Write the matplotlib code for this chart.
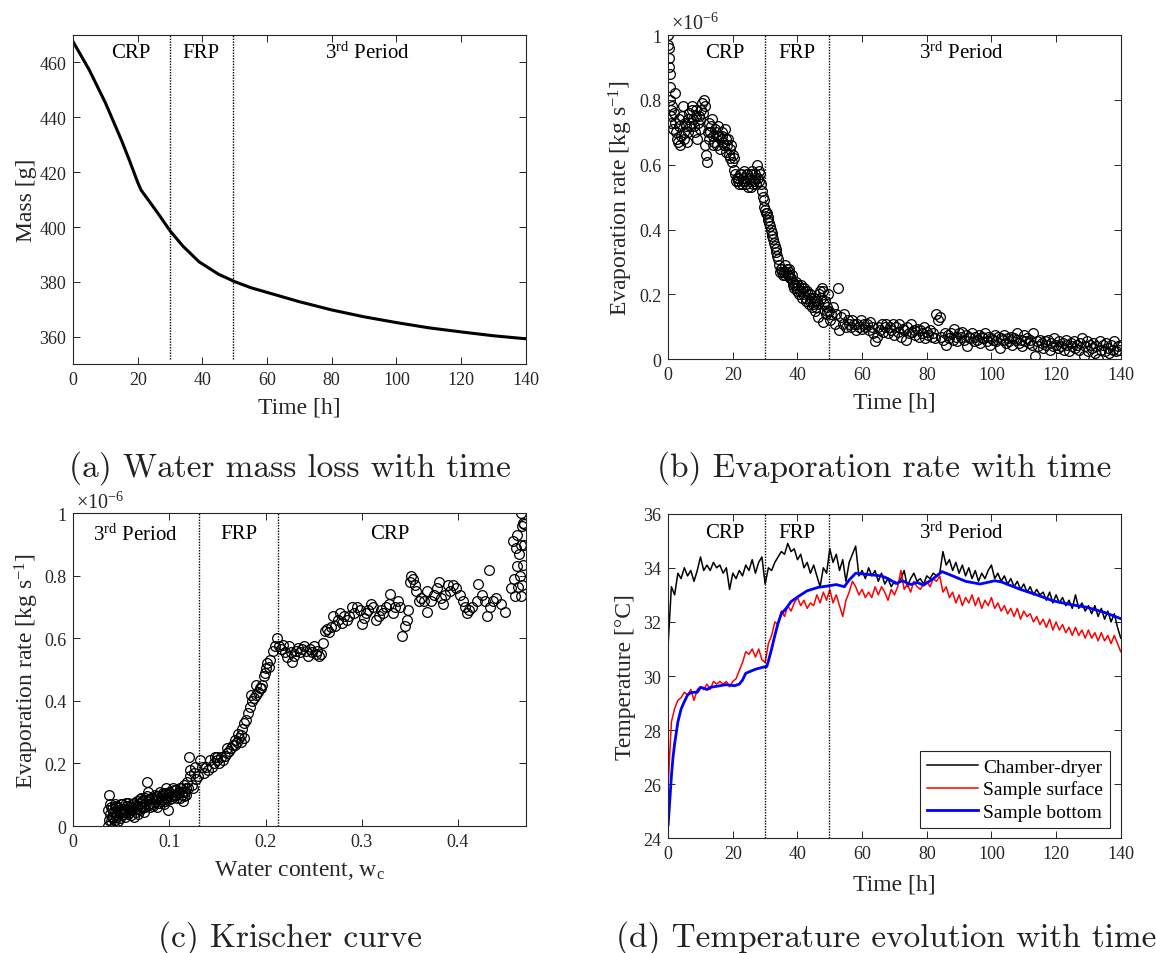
import numpy as np
import matplotlib
matplotlib.use("Agg")
from matplotlib import pyplot as plt
from matplotlib.ticker import FuncFormatter

plt.rcParams["font.family"] = "serif"
plt.rcParams["font.serif"] = ["Liberation Serif", "DejaVu Serif"]
plt.rcParams["mathtext.fontset"] = "custom"
plt.rcParams["mathtext.rm"] = "Liberation Serif"
plt.rcParams["mathtext.it"] = "Liberation Serif:italic"
plt.rcParams["font.size"] = 13
plt.rcParams["axes.linewidth"] = 0.8
plt.rcParams["xtick.direction"] = "in"
plt.rcParams["ytick.direction"] = "in"
plt.rcParams["xtick.top"] = True
plt.rcParams["ytick.right"] = True

# ---- (a) mass vs time
time_mass = [0, 5, 10, 15, 17.5, 20, 21, 26, 30, 34, 39, 45, 50, 55, 60, 70, 80, 90, 100, 110, 120, 130, 140]
mass = [467.5, 457.2, 445.2, 431.5, 424.0, 416.2, 413.5, 405.4, 398.6, 393.0, 387.3, 382.8, 380.1,
        377.9, 376.2, 372.8, 369.8, 367.3, 365.2, 363.3, 361.8, 360.4, 359.3]

# period boundaries
time_bounds = [30, 49.6]
wc_bounds = [0.1307, 0.213]

# ---- (b) evaporation rate vs time (x1e-6 kg/s)
time_rate_early = [0, 0.1, 0.2, 0.3, 0.4, 0.5, 0.6, 0.7, 0.8, 0.9, 1.0, 1.2]
rate_early = [1.0, 0.97, 0.96, 0.93, 0.90, 0.88, 0.84, 0.80, 0.77, 0.75, 0.73, 0.78]
time_rate = np.arange(3, 281) / 2.0  # sampled every 0.5 h from 1.5 h
rate = [
    0.71, 0.82, 0.70, 0.67, 0.74, 0.69, 0.78, 0.68, 0.72, 0.70,
    0.76, 0.73, 0.78, 0.72, 0.77, 0.68, 0.75, 0.74, 0.79, 0.80,
    0.66, 0.61, 0.73, 0.70, 0.74, 0.66, 0.71, 0.69, 0.72, 0.65,
    0.70, 0.67, 0.71, 0.64, 0.68, 0.62, 0.66, 0.63, 0.585, 0.55,
    0.56, 0.54, 0.57, 0.55, 0.58, 0.54, 0.57, 0.56, 0.53, 0.58,
    0.55, 0.56, 0.60, 0.55, 0.57, 0.52, 0.49, 0.46, 0.45, 0.43,
    0.41, 0.39, 0.37, 0.35, 0.33, 0.31, 0.27, 0.28, 0.26, 0.29,
    0.27, 0.26, 0.28, 0.25, 0.23, 0.22, 0.24, 0.21, 0.20, 0.23,
    0.19, 0.22, 0.18, 0.21, 0.17, 0.20, 0.16, 0.19, 0.15, 0.18,
    0.13, 0.21, 0.22, 0.115, 0.18, 0.15, 0.20, 0.12, 0.14, 0.16,
    0.11, 0.14, 0.22, 0.09, 0.13, 0.11, 0.14, 0.10, 0.12, 0.11,
    0.10, 0.12, 0.11, 0.09, 0.11, 0.10, 0.12, 0.095, 0.11, 0.10,
    0.11, 0.09, 0.115, 0.10, 0.08, 0.055, 0.07, 0.10, 0.09, 0.11,
    0.085, 0.10, 0.11, 0.08, 0.10, 0.09, 0.11, 0.075, 0.10, 0.085,
    0.11, 0.07, 0.095, 0.09, 0.06, 0.10, 0.08, 0.11, 0.085, 0.09,
    0.075, 0.095, 0.07, 0.09, 0.08, 0.10, 0.065, 0.085, 0.075, 0.09,
    0.07, 0.08, 0.065, 0.14, 0.12, 0.13, 0.07, 0.06, 0.08, 0.045,
    0.075, 0.065, 0.08, 0.06, 0.095, 0.07, 0.055, 0.08, 0.07, 0.085,
    0.06, 0.075, 0.04, 0.07, 0.065, 0.08, 0.055, 0.07, 0.06, 0.075,
    0.05, 0.07, 0.065, 0.08, 0.055, 0.07, 0.045, 0.065, 0.06, 0.075,
    0.055, 0.07, 0.035, 0.065, 0.06, 0.075, 0.05, 0.065, 0.055, 0.07,
    0.045, 0.065, 0.06, 0.08, 0.05, 0.06, 0.04, 0.075, 0.055, 0.065,
    0.05, 0.06, 0.045, 0.08, 0.01, 0.055, 0.04, 0.06, 0.05, 0.035,
    0.055, 0.045, 0.06, 0.03, 0.05, 0.04, 0.065, 0.045, 0.035, 0.055,
    0.04, 0.05, 0.03, 0.06, 0.045, 0.025, 0.05, 0.04, 0.055, 0.035,
    0.045, 0.03, 0.05, 0.065, 0.01, 0.04, 0.055, 0.025, 0.045, 0.035,
    0.05, 0.02, 0.04, 0.0, 0.055, 0.03, 0.045, 0.025, 0.05, 0.035,
    0.02, 0.045, 0.03, 0.055, 0.025, 0.04, 0.03, 0.045,
]
# extra readings in between, first 50 h (1.75 h, 2.25 h, ...)
time_rate_mid = np.arange(7, 200, 2) / 4.0
rate_mid = [
    0.76, 0.73, 0.68, 0.72, 0.66, 0.75, 0.70, 0.73, 0.67, 0.74,
    0.72, 0.77, 0.74, 0.70, 0.75, 0.73, 0.71, 0.77, 0.76, 0.78,
    0.63, 0.70, 0.68, 0.72, 0.69, 0.67, 0.70, 0.66, 0.69, 0.68,
    0.69, 0.66, 0.68, 0.66, 0.63, 0.65, 0.61, 0.62, 0.57, 0.56,
    0.55, 0.57, 0.54, 0.56, 0.55, 0.57, 0.53, 0.55, 0.57, 0.54,
    0.57, 0.54, 0.56, 0.58, 0.54, 0.50, 0.47, 0.45, 0.44, 0.42,
    0.40, 0.38, 0.36, 0.34, 0.32, 0.29, 0.28, 0.27, 0.27, 0.26,
    0.28, 0.27, 0.25, 0.26, 0.24, 0.23, 0.22, 0.23, 0.21, 0.22,
    0.20, 0.21, 0.19, 0.20, 0.18, 0.19, 0.17, 0.18, 0.16, 0.17,
    0.20, 0.19, 0.21, 0.17, 0.14, 0.16, 0.15,
]

# ---- (c) Krischer curve: water content vs evaporation rate
wc_crp = [
    0.466, 0.468, 0.469, 0.467, 0.462, 0.466, 0.469, 0.460, 0.464, 0.468,
    0.462, 0.465, 0.458, 0.467, 0.463, 0.459, 0.466, 0.457, 0.455, 0.449,
    0.445, 0.440, 0.437, 0.433, 0.430, 0.428, 0.425, 0.420, 0.421, 0.415,
    0.412, 0.410, 0.407, 0.405, 0.402, 0.432, 0.398, 0.395, 0.392, 0.390,
    0.387, 0.385, 0.383, 0.380, 0.378, 0.375, 0.372, 0.368, 0.368, 0.365,
    0.362, 0.360, 0.357, 0.355, 0.353, 0.351, 0.350, 0.345, 0.342, 0.347,
    0.348, 0.340, 0.338, 0.335, 0.333, 0.329, 0.328, 0.325, 0.322, 0.320,
    0.318, 0.315, 0.312, 0.310, 0.307, 0.305, 0.302, 0.300, 0.298, 0.295,
    0.292, 0.290, 0.287, 0.285, 0.282, 0.280, 0.277, 0.275, 0.272, 0.270,
    0.268, 0.266, 0.264, 0.262, 0.260, 0.258, 0.256, 0.254, 0.252, 0.250,
    0.248, 0.246, 0.244, 0.242, 0.240, 0.238, 0.236, 0.234, 0.232, 0.230,
    0.228, 0.226, 0.224, 0.222, 0.220, 0.218, 0.216, 0.214, 0.212, 0.210,
]
rate_crp = [
    1.0, 0.97, 0.965, 0.96, 0.93, 0.90, 0.90, 0.89, 0.87, 0.835,
    0.83, 0.80, 0.79, 0.77, 0.765, 0.735, 0.735, 0.91, 0.76, 0.685,
    0.71, 0.73, 0.72, 0.70, 0.67, 0.72, 0.74, 0.72, 0.774, 0.70,
    0.69, 0.68, 0.70, 0.72, 0.74, 0.82, 0.76, 0.77, 0.75, 0.77,
    0.74, 0.71, 0.73, 0.78, 0.76, 0.74, 0.72, 0.685, 0.75, 0.72,
    0.73, 0.72, 0.75, 0.77, 0.79, 0.80, 0.78, 0.64, 0.607, 0.66,
    0.69, 0.70, 0.72, 0.70, 0.68, 0.742, 0.71, 0.70, 0.68, 0.69,
    0.67, 0.66, 0.70, 0.71, 0.69, 0.68, 0.665, 0.645, 0.69, 0.70,
    0.68, 0.70, 0.67, 0.66, 0.67, 0.65, 0.68, 0.66, 0.64, 0.67,
    0.635, 0.62, 0.63, 0.625, 0.585, 0.55, 0.545, 0.56, 0.55, 0.575,
    0.555, 0.565, 0.545, 0.56, 0.575, 0.565, 0.555, 0.57, 0.56, 0.545,
    0.525, 0.555, 0.575, 0.54, 0.555, 0.58, 0.565, 0.575, 0.60, 0.575,
]
wc_frp = [
    0.208, 0.205, 0.202, 0.200, 0.198, 0.196, 0.194, 0.192, 0.190, 0.188,
    0.186, 0.184, 0.182, 0.180, 0.178, 0.176, 0.174, 0.172, 0.170, 0.168,
    0.166, 0.164, 0.162, 0.160, 0.158, 0.156, 0.154, 0.152, 0.150, 0.148,
    0.146, 0.144, 0.142, 0.140, 0.138, 0.136, 0.134, 0.132, 0.130, 0.175,
    0.171, 0.185, 0.190, 0.195, 0.178, 0.199, 0.204, 0.168, 0.160, 0.150,
]
rate_frp = [
    0.56, 0.53, 0.52, 0.505, 0.48, 0.45, 0.44, 0.43, 0.42, 0.41,
    0.40, 0.38, 0.36, 0.34, 0.33, 0.31, 0.29, 0.28, 0.27, 0.26,
    0.26, 0.25, 0.24, 0.235, 0.225, 0.21, 0.22, 0.20, 0.21, 0.22,
    0.20, 0.19, 0.21, 0.18, 0.19, 0.17, 0.19, 0.21, 0.16, 0.27,
    0.295, 0.42, 0.45, 0.44, 0.28, 0.49, 0.51, 0.275, 0.25, 0.22,
]
wc_3rd = [
    0.128, 0.126, 0.124, 0.122, 0.120, 0.119, 0.118, 0.116, 0.115, 0.113,
    0.112, 0.110, 0.108, 0.107, 0.105, 0.104, 0.102, 0.100, 0.099, 0.098,
    0.096, 0.095, 0.093, 0.092, 0.090, 0.089, 0.088, 0.086, 0.085, 0.083,
    0.082, 0.080, 0.079, 0.078, 0.077, 0.076, 0.075, 0.073, 0.072, 0.070,
    0.069, 0.068, 0.066, 0.065, 0.064, 0.062, 0.061, 0.060, 0.058, 0.057,
    0.056, 0.054, 0.053, 0.052, 0.050, 0.049, 0.048, 0.046, 0.045, 0.044,
    0.043, 0.042, 0.041, 0.040, 0.039, 0.038, 0.037, 0.037, 0.036, 0.036,
    0.038, 0.040, 0.044, 0.047, 0.051, 0.055, 0.059, 0.063, 0.067, 0.071,
    0.074, 0.081, 0.087, 0.091, 0.094, 0.097, 0.101, 0.106, 0.111, 0.114,
    0.117, 0.121, 0.125, 0.127,
    0.039, 0.041, 0.043, 0.045, 0.047, 0.049, 0.051, 0.053, 0.055, 0.057,
    0.059, 0.061, 0.063, 0.065, 0.067, 0.069, 0.071, 0.073, 0.075, 0.077,
    0.079, 0.081, 0.083, 0.085, 0.087, 0.089, 0.091, 0.093, 0.095, 0.097,
    0.099, 0.101, 0.103, 0.105, 0.107, 0.109, 0.111, 0.113, 0.115, 0.117,
]
rate_3rd = [
    0.15, 0.17, 0.13, 0.16, 0.22, 0.12, 0.14, 0.11, 0.13, 0.10,
    0.12, 0.11, 0.09, 0.115, 0.10, 0.12, 0.095, 0.11, 0.05, 0.09,
    0.105, 0.08, 0.10, 0.085, 0.11, 0.075, 0.095, 0.08, 0.10, 0.07,
    0.09, 0.06, 0.085, 0.11, 0.14, 0.07, 0.09, 0.06, 0.08, 0.05,
    0.075, 0.055, 0.08, 0.045, 0.065, 0.05, 0.07, 0.035, 0.06, 0.04,
    0.065, 0.03, 0.055, 0.045, 0.07, 0.025, 0.05, 0.035, 0.06, 0.02,
    0.045, 0.0, 0.03, 0.055, 0.015, 0.04, 0.10, 0.02, 0.05, 0.0,
    0.07, 0.03, 0.07, 0.015, 0.035, 0.075, 0.05, 0.03, 0.065, 0.09,
    0.045, 0.075, 0.06, 0.095, 0.07, 0.12, 0.085, 0.10, 0.09, 0.08,
    0.10, 0.18, 0.12, 0.19,
    0.06, 0.045, 0.065, 0.03, 0.06, 0.045, 0.07, 0.04, 0.05, 0.075,
    0.045, 0.06, 0.075, 0.055, 0.04, 0.085, 0.065, 0.08, 0.06, 0.095,
    0.07, 0.09, 0.065, 0.085, 0.095, 0.09, 0.08, 0.105, 0.09, 0.085,
    0.10, 0.105, 0.09, 0.115, 0.10, 0.105, 0.12, 0.11, 0.095, 0.12,
]

# ---- (d) temperatures
time_temp = np.arange(0, 141)  # hourly readings
temp_chamber = [
    31.2, 33.3, 33.0, 33.8, 33.6, 34.0, 33.7, 33.9, 33.5, 33.9,
    34.4, 33.9, 34.1, 33.9, 34.2, 34.0, 34.1, 33.8, 34.0, 33.2,
    33.8, 33.6, 33.9, 33.7, 34.1, 33.9, 34.3, 33.8, 34.2, 34.4,
    33.4, 34.0, 33.9, 34.2, 34.4, 34.6, 34.5, 34.9, 34.6, 34.7,
    34.3, 34.5, 34.0, 34.2, 33.8, 34.1, 33.7, 33.3, 34.0, 33.8,
    34.7, 34.2, 34.5, 33.9, 34.3, 33.5, 34.2, 34.5, 34.8, 33.7,
    33.9, 33.6, 34.0, 33.7, 33.9, 33.5, 33.8, 33.4, 33.6, 33.3,
    33.5, 33.4, 33.6, 33.9, 33.3, 33.6, 33.8, 33.5, 33.6, 33.4,
    33.7, 33.6, 33.8, 33.7, 33.8, 34.6, 34.1, 34.3, 33.9, 34.2,
    33.8, 34.1, 33.7, 34.0, 33.6, 33.9, 33.5, 33.8, 33.6, 33.9,
    34.1, 33.6, 33.8, 33.5, 33.7, 33.4, 33.6, 33.3, 33.5, 33.2,
    33.4, 33.1, 33.3, 33.0, 33.2, 33.0, 33.1, 32.8, 33.1, 32.7,
    33.0, 32.7, 32.9, 32.6, 32.8, 32.5, 33.0, 32.5, 32.7, 32.4,
    32.6, 32.3, 32.6, 32.2, 32.5, 32.1, 32.4, 32.0, 32.3, 31.8,
    31.4,
]
temp_surface = [
    26.0, 28.3, 28.8, 29.1, 29.2, 29.4, 29.3, 29.5, 29.1, 29.5,
    29.6, 29.5, 29.7, 29.5, 29.8, 29.7, 29.8, 29.7, 29.8, 29.6,
    29.8, 29.9, 30.2, 30.5, 30.9, 30.8, 31.0, 30.7, 31.0, 30.6,
    30.5, 31.2, 31.5, 32.0, 31.9, 32.4, 32.2, 32.6, 32.4, 32.7,
    32.9, 32.6, 32.8, 32.5, 32.7, 32.6, 33.0, 32.7, 33.1, 32.8,
    33.2, 32.7, 33.0, 32.6, 32.2, 32.8, 33.1, 33.5, 33.3, 33.0,
    33.2, 32.9, 33.1, 32.9, 33.3, 33.0, 33.3, 33.1, 32.8, 33.2,
    33.0, 33.3, 33.9, 33.2, 33.4, 33.1, 33.5, 33.3, 33.2, 33.4,
    33.5, 33.3, 33.6, 33.5, 33.7, 33.1, 33.3, 32.9, 33.1, 32.7,
    33.0, 32.6, 32.9, 32.7, 33.0, 32.6, 32.9, 32.5, 32.8, 32.6,
    32.9, 32.5, 32.7, 32.4, 32.6, 32.3, 32.5, 32.2, 32.5, 32.1,
    32.4, 32.2, 32.3, 32.0, 32.2, 31.9, 32.1, 31.8, 32.1, 31.7,
    32.0, 31.7, 31.9, 31.6, 31.8, 31.5, 31.8, 31.5, 31.7, 31.4,
    31.7, 31.4, 31.6, 31.3, 31.6, 31.3, 31.5, 31.2, 31.5, 31.2,
    30.9,
]
time_bottom = [0, 0.5, 1, 1.5, 2, 2.5, 3, 4, 5, 6, 7, 8, 9, 10, 11, 12, 13, 15, 18, 20.5,
               22, 23, 24, 25, 27, 29.5, 30.5, 31, 32, 33, 34, 35, 36.5, 38, 40, 43, 46.5,
               49, 52, 54.5, 56, 58, 62, 66, 68, 70.5, 72.5, 75, 77, 79, 82, 84.7, 88, 92,
               96.5, 101, 103, 109, 114, 119, 124, 129.5, 135, 140]
temp_bottom = [24.5, 25.4, 26.3, 27.0, 27.5, 27.9, 28.3, 28.78, 29.05, 29.3, 29.38, 29.4,
               29.4, 29.58, 29.55, 29.5, 29.58, 29.62, 29.68, 29.64, 29.7, 29.85, 30.1,
               30.15, 30.25, 30.33, 30.35, 30.55, 31.0, 31.5, 31.95, 32.3, 32.5, 32.75,
               32.92, 33.15, 33.28, 33.32, 33.38, 33.3, 33.55, 33.8, 33.75, 33.7, 33.6,
               33.42, 33.52, 33.38, 33.46, 33.36, 33.6, 33.86, 33.7, 33.5, 33.4, 33.52,
               33.48, 33.2, 33.0, 32.78, 32.65, 32.54, 32.35, 32.12]

fig = plt.figure(figsize=(11.56, 9.54), dpi=100)
ax_a = fig.add_axes([0.0633, 0.6171, 0.3914, 0.3452])
ax_b = fig.add_axes([0.5780, 0.6223, 0.3915, 0.3399])
ax_c = fig.add_axes([0.0633, 0.1331, 0.3914, 0.3278])
ax_d = fig.add_axes([0.5780, 0.1202, 0.3915, 0.3403])

edge = "#262626"
fmt = FuncFormatter(lambda v, p: f"{v:g}")


def style(ax, xlim, ylim, xticks, yticks):
    ax.set_xlim(xlim)
    ax.set_ylim(ylim)
    ax.set_xticks(xticks)
    ax.set_yticks(yticks)
    ax.xaxis.set_major_formatter(fmt)
    ax.yaxis.set_major_formatter(fmt)
    ax.tick_params(length=5, width=0.7, color=edge, labelcolor=edge, labelsize=13, pad=5)
    for s in ax.spines.values():
        s.set_color(edge)


dots = dict(color="k", ls=(0, (1, 1)), lw=1.0)
circ = dict(ls="none", marker="o", mfc="none", mec="k", ms=7, mew=0.9)

# (a)
ax_a.plot(time_mass, mass, "k-", lw=2.2)
for b in time_bounds:
    ax_a.axvline(b, ymin=2 / 120, ymax=1, **dots)
style(ax_a, (0, 140), (350, 470), range(0, 141, 20), range(360, 461, 20))
ax_a.set_xlabel("Time [h]", fontsize=17, color=edge, labelpad=6)
ax_a.set_ylabel("Mass [g]", fontsize=17, color=edge, labelpad=2)
for x, s in [(17.7, "CRP"), (39.6, "FRP"), (91, "3$^{\\rm rd}$ Period")]:
    ax_a.text(x, 463.6, s, ha="center", va="center", fontsize=15, color="k")

# (b)
ax_b.plot(time_rate_early, rate_early, **circ)
ax_b.plot(time_rate, rate, **circ)
ax_b.plot(time_rate_mid, rate_mid, **circ)
for b in time_bounds:
    ax_b.axvline(b, **dots)
style(ax_b, (0, 140), (0, 1), range(0, 141, 20), np.arange(0, 1.01, 0.2))
ax_b.set_xlabel("Time [h]", fontsize=17, color=edge, labelpad=6)
ax_b.set_ylabel("Evaporation rate [kg s$^{-1}$]", fontsize=17, color=edge, labelpad=3)
ax_b.text(0.006, 1.003, "$\\times$10$^{-6}$", transform=ax_b.transAxes, ha="left", va="bottom",
          fontsize=14.5, color=edge)
for x, s in [(17.6, "CRP"), (39.7, "FRP"), (90.8, "3$^{\\rm rd}$ Period")]:
    ax_b.text(x, 0.947, s, ha="center", va="center", fontsize=15, color="k")

# (c)
for w, r in [(wc_crp, rate_crp), (wc_frp, rate_frp), (wc_3rd, rate_3rd)]:
    ax_c.plot(w, r, **circ)
for b in wc_bounds:
    ax_c.axvline(b, **dots)
style(ax_c, (0, 0.4705), (0, 1), np.arange(0, 0.41, 0.1), np.arange(0, 1.01, 0.2))
ax_c.set_xlabel("Water content, w$_{\\rm c}$", fontsize=17, color=edge, labelpad=6)
ax_c.set_ylabel("Evaporation rate [kg s$^{-1}$]", fontsize=17, color=edge, labelpad=2)
ax_c.text(0.006, 1.003, "$\\times$10$^{-6}$", transform=ax_c.transAxes, ha="left", va="bottom",
          fontsize=14.5, color=edge)
for x, s in [(0.065, "3$^{\\rm rd}$ Period"), (0.1725, "FRP"), (0.3295, "CRP")]:
    ax_c.text(x, 0.934, s, ha="center", va="center", fontsize=15, color="k")

# (d)
ax_d.plot(time_temp, temp_chamber, color="k", lw=1.1, label="Chamber-dryer")
ax_d.plot(time_temp, temp_surface, color="#ff0000", lw=1.1, label="Sample surface")
ax_d.plot(time_bottom, temp_bottom, color="#0000ff", lw=2.0, label="Sample bottom")
for b in time_bounds:
    ax_d.axvline(b, **dots)
style(ax_d, (0, 140), (24, 36), range(0, 141, 20), range(24, 37, 2))
ax_d.set_xlabel("Time [h]", fontsize=17, color=edge, labelpad=8)
ax_d.set_ylabel("Temperature [\u00b0C]", fontsize=17, color=edge, labelpad=5)
for x, s in [(17.6, "CRP"), (39.7, "FRP"), (90.8, "3$^{\\rm rd}$ Period")]:
    ax_d.text(x, 35.31, s, ha="center", va="center", fontsize=15, color="k")
leg = ax_d.legend(loc="lower right", fontsize=14, handlelength=2.6, handletextpad=0.3,
                  borderpad=0.35, labelspacing=0.25, borderaxespad=0.55, fancybox=False,
                  framealpha=1)
leg.get_frame().set_edgecolor(edge)
leg.get_frame().set_linewidth(0.8)

# captions
caps = [(0.2509, 0.5094, "(a) Water mass loss with time"),
        (0.7647, 0.5094, "(b) Evaporation rate with time"),
        (0.2509, 0.0168, "(c) Krischer curve"),
        (0.7664, 0.0168, "(d) Temperature evolution with time")]
for x, y, s in caps:
    fig.text(x, y, s, ha="center", va="center", fontsize=24, family="cmr10", color="#222222")

fig.savefig("out.png", dpi=100)
